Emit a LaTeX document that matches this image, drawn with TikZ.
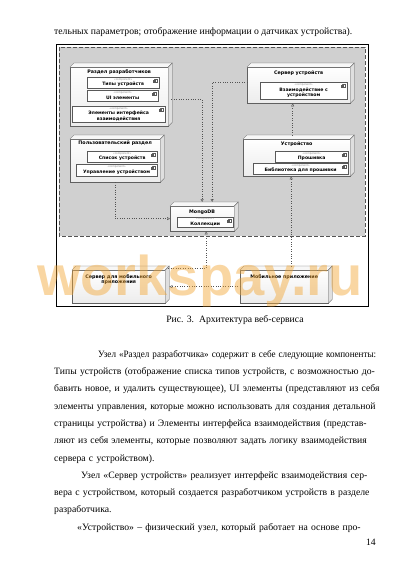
\documentclass[tikz,border=0pt]{standalone}
\usepackage{fontspec}
\usepackage{graphicx}
\setmainfont{Liberation Serif}
\newfontfamily\diafont{DejaVu Sans}
\newfontfamily\wmfont{Liberation Sans}
\usetikzlibrary{arrows.meta,positioning}

\definecolor{wmorange}{RGB}{242,165,50}
\definecolor{zone}{RGB}{208,208,208}
\newcommand\stereo{{\fontsize{2.6}{2.6}\selectfont\mdseries\color{gray}«component»}}
\newcommand\jline[1]{\makebox[322pt][s]{#1}\\}

\begin{document}
\begin{tikzpicture}[x=1pt,y=-1pt,>=stealth,every node/.style={inner sep=0pt},
    box/.style={draw=gray!75!black, line width=0.3pt, top color=white, bottom color=gray!15, anchor=north west},
    ttl/.style={font=\diafont\bfseries\fontsize{4.8}{5.8}\selectfont, align=center},
    comp/.style={draw=gray!70!black, line width=0.3pt, fill=white, anchor=north west, align=center,
        font=\diafont\bfseries\fontsize{4.6}{5.6}\selectfont,
        path picture={
            \draw[gray!70!black, line width=0.2pt, fill=white]
                ([xshift=-5pt,yshift=-2pt]path picture bounding box.north east) rectangle ++(2.6pt,-3.2pt);
            \draw[gray!70!black, line width=0.2pt, fill=white]
                ([xshift=-5.8pt,yshift=-2.7pt]path picture bounding box.north east) rectangle ++(1.6pt,-0.7pt)
                ([xshift=-5.8pt,yshift=-4pt]path picture bounding box.north east) rectangle ++(1.6pt,-0.7pt);}},
    dep/.style={dotted, draw=gray!65!black, line width=0.4pt, -{Triangle[open,length=3pt,width=3pt]}},
    pagetext/.style={font=\fontsize{9.7}{12}\selectfont}]

    % страница
    \fill[white] (0,0) rectangle (401,565);
    \useasboundingbox (0,0) rectangle (401,565);

    % рамка рисунка и серая зона
    \draw[line width=0.8pt] (56,44) rectangle (368,306);
    \draw[fill=zone, draw=gray!65!black, line width=0.9pt, dash pattern=on 4pt off 2pt] (59,47) rectangle (365,236);

    % узлы
    \node[box, minimum width=98pt, minimum height=59pt] (dev) at (70,67) {};
    \node[box, minimum width=90pt, minimum height=43pt] (user) at (70,139) {};
    \node[box, minimum width=103pt, minimum height=36pt] (srv) at (247,67) {};
    \node[box, minimum width=107pt, minimum height=37pt] (dvc) at (243,139) {};
    \node[box, minimum width=64pt, minimum height=25pt] (mongo) at (170,206) {};
    \node[box, minimum width=93pt, minimum height=33pt] (msrv) at (72,270) {};
    \node[box, minimum width=88pt, minimum height=33pt] (mob) at (240,270) {};

    % объём узлов
    \foreach \n in {dev,user,srv,dvc,mongo,msrv,mob}{
        \filldraw[fill=gray!6, draw=gray!75!black, line width=0.3pt]
            (\n.north west) -- ++(4pt,4pt) -- ([shift={(4pt,4pt)}]\n.north east) -- (\n.north east);
        \filldraw[fill=gray!25, draw=gray!75!black, line width=0.3pt]
            (\n.north east) -- ++(4pt,4pt) -- ([shift={(4pt,4pt)}]\n.south east) -- (\n.south east);
    }

    % заголовки узлов
    \node[ttl, below=2pt of dev.north] (devT) {Раздел разработчиков};
    \node[ttl, below=2pt of user.north] (userT) {Пользовательский раздел};
    \node[ttl, below=4pt of srv.north] (srvT) {Сервер устройств};
    \node[ttl, below=3pt of dvc.north] (dvcT) {Устройство};
    \node[ttl, below=3.5pt of mongo.north] (mongoT) {MongoDB};
    \node[ttl, below=4pt of msrv.north] (msrvT) {Сервер для мобильного\\приложения};
    \node[ttl, below=4.5pt of mob.north] (mobT) {Мобильное приложение};

    % компоненты
    \node[comp, minimum width=72pt, minimum height=11pt] (types) at (87,77) {\stereo\\Типы устройств};
    \node[comp, minimum width=71pt, minimum height=11pt] (ui) at (87,90) {\stereo\\UI элементы};
    \node[comp, minimum width=93pt, minimum height=16pt] (iface) at (72,106) {\stereo\\Элементы интерфейса\\взаимодействия};
    \node[comp, minimum width=70pt, minimum height=11pt] (list) at (87,151) {\stereo\\Список устройств};
    \node[comp, minimum width=81pt, minimum height=12pt] (ctrl) at (76,164) {\stereo\\Управление устройством};
    \node[comp, minimum width=87pt, minimum height=17pt] (link) at (260,82) {\stereo\\Взаимодействие с\\устройством};
    \node[comp, minimum width=73pt, minimum height=11pt] (fw) at (275,151) {\stereo\\Прошивка};
    \node[comp, minimum width=95pt, minimum height=11pt] (lib) at (253,163) {\stereo\\Библиотека для прошивки};
    \node[comp, minimum width=56pt, minimum height=10pt] (coll) at (177,217) {\stereo\\Коллекции};

    % зависимости
    \draw[dep] ([xshift=3pt,yshift=-3pt]dev.east) -| ([yshift=4pt]mongo.north);
    \draw[dep] ([yshift=3pt]srv.west) -| ([shift={(10pt,4pt)}]mongo.north);
    \draw[dep] (user.south) |- (mongo.west);
    \draw[dep] ([xshift=-4pt,yshift=4pt]dvc.north) -- ([xshift=-4pt]dvc.north |- srv.south);
    \draw[dep] ([xshift=7pt,yshift=4pt]mob.north) -- ([xshift=7pt]mob.north |- dvc.south);
    \draw[dep] ([xshift=3pt,yshift=2pt]msrv.north east) -| ([xshift=4pt]mongo.south);
    \draw[dep] (mob.west) -- ([xshift=4pt]msrv.east);

    % текст страницы
    \node[pagetext, anchor=base west] (topline) at (54,34)
        {тельных параметров; отображение информации о датчиках устройства).};
    \node[pagetext, anchor=base] (caption) at (235,322)
        {Рис. 3.\enspace Архитектура веб-сервиса};
    \node[pagetext, font=\fontsize{9.7}{17.3}\selectfont, text width=322pt, align=left, anchor=north west] (bodytext) at (54,344.9) {\noindent
        \jline{\strut\hspace*{44pt}\resizebox{278pt}{\height}{Узел «Раздел разработчика» содержит в себе следующие компоненты:}}
        \jline{Типы устройств (отображение списка типов устройств, с возможностью до-}
        \jline{бавить новое, и удалить существующее), UI элементы (представляют из себя}
        \jline{элементы управления, которые можно использовать для создания детальной}
        \jline{страницы устройства) и Элементы интерфейса взаимодействия (представ-}
        \jline{ляют из себя элементы, которые позволяют задать логику взаимодействия}
        сервера с устройством).\\
        \jline{\hspace*{27pt}Узел «Сервер устройств» реализует интерфейс взаимодействия сер-}
        \jline{вера с устройством, который создается разработчиком устройств в разделе}
        разработчика.\\
        \makebox[322pt][s]{\hspace*{23pt}«Устройство» – физический узел, который работает на основе про-}};
    \node[pagetext, anchor=base east] (pagenum) at (376,545) {14};

    % водяной знак
    \node[font=\wmfont\bfseries\fontsize{56}{56}\selectfont, text=wmorange, opacity=0.45, anchor=base west] (wm) at (37,295) {workspay.ru};
\end{tikzpicture}
\end{document}
